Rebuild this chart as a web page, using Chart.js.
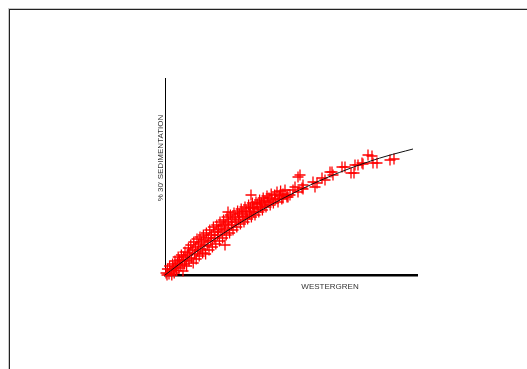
<!DOCTYPE html>
<html>
<head>
<meta charset="utf-8">
<script src="https://cdn.jsdelivr.net/npm/chart.js@4/dist/chart.umd.min.js"></script>
<style>
  html, body { margin: 0; padding: 0; background: #fff; overflow: hidden; }
  .frame { position: absolute; left: 8px; top: 8px; width: 700px; height: 500px;
           border-left: 1px solid #c8c8c8; border-top: 1px solid #c8c8c8; }
  .frame div { width: 100%; height: 100%; border-left: 1px solid #222; border-top: 1px solid #222; }
  canvas { position: absolute; left: 0; top: 0; }
</style>
</head>
<body>
<div class="frame"><div></div></div>
<canvas id="myChart" width="527" height="369"></canvas>
<script>
// axis titles
const xTitle = "WESTERGREN";
const yTitle = "% 30' SEDIMENTATION";

// fitted curve (westergren, % sedimentation)
const curveX = [0, 10, 20, 30, 40, 50, 60, 70, 80, 90, 100, 110, 124];
const curveY = [0, 7.55, 14.67, 21.35, 27.6, 33.42, 38.81, 43.76, 48.27, 52.36, 56.01, 59.23, 63];

// measured samples
const westergren = [
  0.5, 1, 1.2, 2, 2.3, 3, 3.4, 3.8, 4.2, 4.6, 5, 5.3, 5.8, 6.2, 6.6, 7, 7.3, 7.9, 8.2, 8.6, 9, 9.3, 9.8, 10, 10.4,
  10.8, 11.2, 11.7, 12, 12.4, 12.9, 13.2, 13.6, 14.1, 14.4, 14.8, 15.3, 15.6, 16, 16.3, 16.8, 17.1, 17.5, 17.9, 18.3, 18.8, 19.2, 19.5, 20, 20.3,
  20.7, 21.1, 21.6, 22, 22.4, 22.9, 23.3, 23.7, 24.2, 24.6, 25, 25.4, 25.9, 26.3, 26.8, 27.2, 27.5, 28, 28.5, 28.8, 29.3, 29.7, 30.1, 30, 30.6,
  31, 31.5, 31.8, 32.3, 32.7, 33.2, 33.6, 34, 34.5, 35, 35.4, 35.9, 36.3, 36.8, 37.2, 37.7, 38.1, 38.6, 39, 39.5, 40, 31.5, 43,
  40.4, 40.9, 41.3, 41.8, 42.3, 42.7, 43.2, 43.7, 44.1, 44.6, 45, 45.5, 46, 46.4, 46.9, 47.3, 47.8, 48.2, 48.7, 49.1, 49.6, 50,
  50.5, 51, 51.4, 52, 52.6, 53.1, 53.5, 54.2, 54.8, 55.3, 56, 56.5, 57.2, 57.8, 58.4, 59, 60, 44,
  59, 61, 61.5, 64, 66.5, 66.5, 68.5, 69, 74, 75, 78.5, 80, 82.5, 88.5, 93, 95, 98.5, 101.5, 104, 112.5,
  67.5, 65, 69, 76, 83.5, 90, 61, 62.5, 84, 94.5, 96.5, 99, 103.5, 106, 114.5
];
const sedimentation = [
  1, 0, 3, 0.5, 4.5, 2, 0, 5.5, 3, 1, 7, 4, 2.2, 6, 9, 3.5, 7.5, 5, 10, 7, 2, 9, 5.5, 11.5, 7.5,
  4.5, 10, 13.5, 7, 11, 15, 8.5, 12.5, 6, 16.5, 10.5, 14, 8, 18, 12, 15.5, 9.5, 19, 13, 16.5, 11, 20, 14.5, 17.5, 10.5,
  21, 15, 18.5, 12.5, 22.5, 17, 20, 14, 24, 18.5, 21.5, 15.5, 25, 20, 23, 17, 26.5, 21.5, 24.5, 18.5, 27.5, 22.5, 25.5, 15, 20,
  29, 23.5, 26.5, 21, 30, 25, 28, 22.5, 31, 26.5, 29, 24, 32, 27.5, 30.5, 25.5, 33, 29, 31.5, 26.5, 34, 31.5, 40,
  29.5, 32, 28, 35, 30.5, 33.5, 29, 36, 31.5, 34, 30, 36.5, 33, 35.5, 31.5, 37.5, 34, 36, 32.5, 38.5, 35, 37,
  34, 39.5, 36.5, 38.5, 35, 40.5, 37.5, 36, 40, 38, 41.5, 36.5, 39.5, 42, 38, 40.5, 42.5, 33.5,
  38.5, 40, 39, 42.5, 41.5, 49, 43.5, 45, 46.5, 44, 48.5, 47.5, 51.5, 54, 51, 55, 56, 60, 56, 57.5,
  50, 44, 43, 46, 51.5, 54, 39, 40, 50, 51, 55, 55.5, 59.5, 56, 58
];

const axisTitles = {
  id: 'axisTitles',
  afterDraw(chart) {
    const c = chart.ctx;
    c.save();
    c.fillStyle = '#333';
    c.font = '8px "Liberation Sans", Arial, sans-serif';
    c.textAlign = 'center';
    c.textBaseline = 'middle';
    c.fillText(xTitle, 330, 287);
    c.translate(161, 158);
    c.rotate(-Math.PI / 2);
    c.fillText(yTitle, 0, 0);
    c.restore();
  }
};

var ctx = document.getElementById("myChart").getContext("2d");
var myChart = new Chart(ctx, {
  type: 'scatter',
  data: {
    datasets: [{
      type: 'line',
      data: curveX.map((x, i) => ({ x: x, y: curveY[i] })),
      borderColor: '#111',
      borderWidth: 1,
      pointRadius: 0,
      tension: 0.4,
      fill: false,
      order: 0
    }, {
      data: westergren.map((x, i) => ({ x: x, y: sedimentation[i] })),
      pointStyle: 'cross',
      pointRadius: 5.5,
      borderColor: '#ff0000',
      backgroundColor: '#ff0000',
      borderWidth: 1.3,
      clip: false,
      order: 1
    }]
  },
  options: {
    responsive: false,
    animation: false,
    layout: { padding: { left: 165, top: 78, right: 110, bottom: 94 } },
    plugins: { legend: { display: false }, tooltip: { enabled: false } },
    scales: {
      x: {
        type: 'linear', min: 0, max: 126,
        ticks: { display: false },
        grid: { display: false, drawTicks: false },
        border: { color: '#000', width: 2.5 }
      },
      y: {
        type: 'linear', min: 0, max: 98.5,
        ticks: { display: false },
        grid: { display: false, drawTicks: false },
        border: { color: '#000', width: 1 }
      }
    }
  },
  plugins: [axisTitles]
});
</script>
</body>
</html>
